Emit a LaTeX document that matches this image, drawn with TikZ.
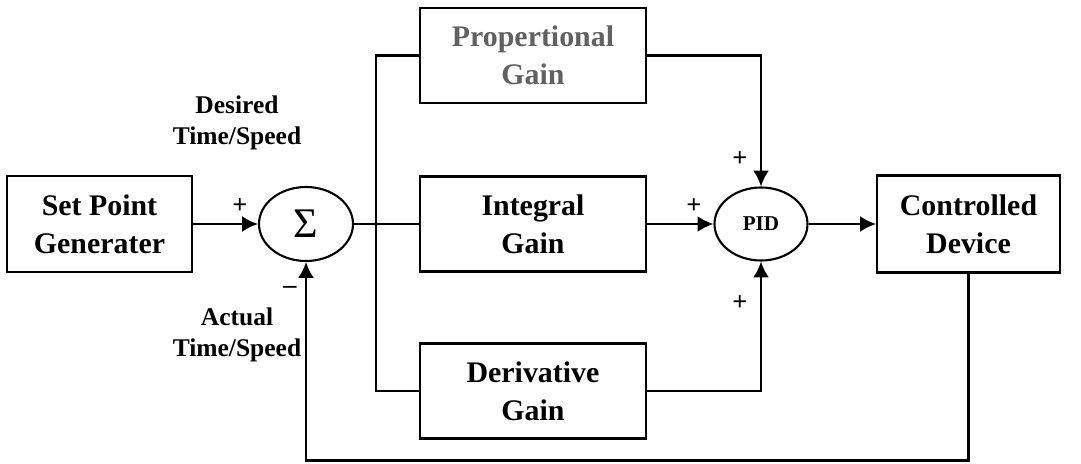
\documentclass[tikz,border=0pt]{standalone}
\usepackage{fontspec}
\setmainfont{Liberation Serif}
\usetikzlibrary{shapes,arrows.meta,positioning,calc}

\begin{document}
\begin{tikzpicture}[
  blk/.style={draw,line width=1.2pt,minimum width=4.52cm,minimum height=1.9cm,inner sep=2pt,align=center,font=\fontsize{17}{21.5}\selectfont\bfseries},
  sumnode/.style={ellipse,draw,line width=1.2pt,minimum width=1.88cm,minimum height=1.48cm,inner sep=0pt},
  sgn/.style={font=\fontsize{15}{15}\selectfont\bfseries},
  lbl/.style={align=center,font=\fontsize{14.5}{17.6}\selectfont\bfseries},
  wire/.style={line width=1.2pt},
  arr/.style={wire,-{Latex[length=9pt,width=9pt]}}]
\useasboundingbox (0,0) rectangle (21.62,9.26);
\node[blk,minimum width=3.70cm,minimum height=1.92cm] (spg) at (1.99,4.78) {Set Point\\Generater};
\node[sumnode,font=\fontsize{24}{24}\selectfont] (sum) at (6.12,4.78) {Σ};
\node[blk,text=black!62] (prop) at (10.66,8.15) {Propertional\\Gain};
\node[blk] (int) at (10.66,4.78) {Integral\\Gain};
\node[blk] (der) at (10.66,1.44) {Derivative\\Gain};
\node[sumnode,minimum width=1.86cm,minimum height=1.46cm,font=\fontsize{12}{12}\selectfont\bfseries] (pid) at (15.22,4.78) {PID};
\node[blk,minimum width=3.66cm,minimum height=1.94cm] (dev) at (19.37,4.78) {Controlled\\Device};
\coordinate (sp) at (7.52,4.78);
\coordinate (fb) at (19.37,0.05);
\draw[arr] (spg) -- (sum);
\draw[wire] (sum) -- (int);
\draw[wire] (prop.west) -| (sp) |- (der.west);
\draw[arr] (prop.east) -| (pid.north);
\draw[arr] (int) -- (pid);
\draw[arr] (der.east) -| (pid.south);
\draw[arr] (pid) -- (dev);
\draw[arr] (dev.south) -- (fb) -| (sum.south);
\node[sgn] (p1) at (4.80,5.14) {+};
\node[sgn] (m1) at (5.80,3.46) {--};
\node[sgn] (p2) at (14.80,6.08) {+};
\node[sgn] (p3) at (13.88,5.14) {+};
\node[sgn] (p4) at (14.80,3.20) {+};
\node[lbl] (des) at (4.74,6.81) {Desired\\Time/Speed};
\node[lbl] (act) at (4.74,2.56) {Actual\\Time/Speed};
\end{tikzpicture}
\end{document}
